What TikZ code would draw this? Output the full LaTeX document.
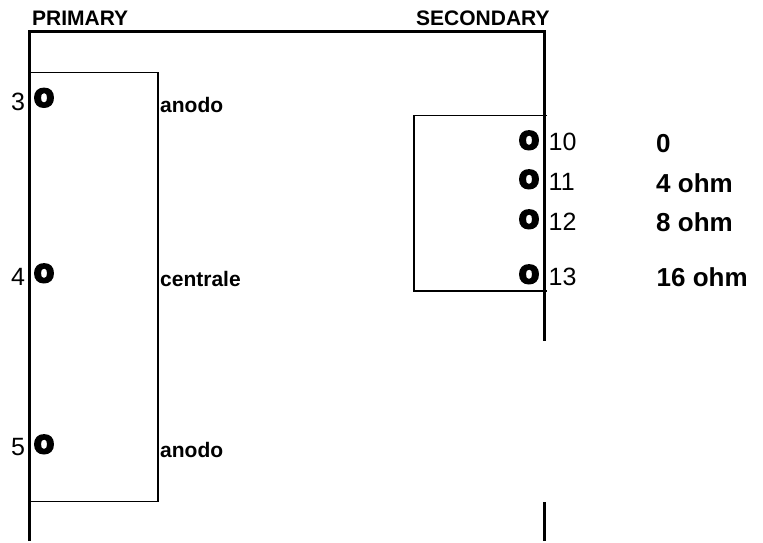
\documentclass[tikz,border=0pt]{standalone}
\usepackage{fontspec}
\setmainfont{Liberation Sans}
\newfontfamily\tapfont[FakeBold=7]{Liberation Sans Bold}
\newcommand{\fs}[1]{\fontsize{#1}{#1}\selectfont}
\tikzset{
  x=1pt,y=-1pt,
  frameline/.style={draw=black,line width=2.2pt},
  winding/.style={draw=black,line width=1.5pt},
  head/.style={anchor=base west,inner sep=0pt,font=\fs{21}\bfseries},
  pin/.style={anchor=base west,inner sep=0pt,font=\fs{25}},
  imp/.style={anchor=base west,inner sep=0pt,font=\fs{26}\bfseries},
  tap/.style={anchor=base,inner sep=0pt,font=\fs{33}\tapfont},
}
\begin{document}
\begin{tikzpicture}
\useasboundingbox (0,0) rectangle (763,542);
% frame
\coordinate (fl) at (29.5,541);
\coordinate (ftl) at (29.5,31.5);
\coordinate (ftr) at (544.5,31.5);
\coordinate (fr) at (544.5,341);
\coordinate (gt) at (544.5,502);
\coordinate (gb) at (544.5,541);
\draw[frameline] (fl) -- (ftl) -- (ftr) -- (fr);
\draw[frameline] (gt) -- (gb);
% windings
\coordinate (pa) at (29.5,72.5);
\coordinate (pb) at (158,72.5);
\coordinate (pc) at (158,501.5);
\coordinate (pd) at (29.5,501.5);
\draw[winding] (pa) -- (pb) -- (pc) -- (pd);
\coordinate (sa) at (547,115.5);
\coordinate (sb) at (414,115.5);
\coordinate (sc) at (414,291);
\coordinate (sd) at (547,291);
\draw[winding] (sa) -- (sb) -- (sc) -- (sd);
% headings
\node[head] (primary) at (32,25) {PRIMARY};
\node[head] (secondary) at (416,25) {SECONDARY};
% primary
\node[pin] (p3) at (11,110) {3};
\node[pin] (p4) at (11,285) {4};
\node[pin] (p5) at (11,455) {5};
\node[tap] (o3) at (44,106.5) {o};
\node[tap] (o4) at (44,282) {o};
\node[tap] (o5) at (44,453) {o};
\node[head] (a1) at (160,112) {anodo};
\node[head] (c1) at (160,286.5) {centrale};
\node[head] (a2) at (160,457) {anodo};
% secondary
\node[tap] (o10) at (529,149) {o};
\node[tap] (o11) at (529,188) {o};
\node[tap] (o12) at (529,228) {o};
\node[tap] (o13) at (529,283) {o};
\node[pin] (s10) at (548.5,150) {10};
\node[pin] (s11) at (548.5,190) {11};
\node[pin] (s12) at (548.5,230) {12};
\node[pin] (s13) at (548.5,285) {13};
\node[imp] (i0) at (656,152) {0};
\node[imp] (i4) at (656,192) {4 ohm};
\node[imp] (i8) at (656,231) {8 ohm};
\node[imp] (i16) at (656.5,286) {16 ohm};
\end{tikzpicture}
\end{document}
